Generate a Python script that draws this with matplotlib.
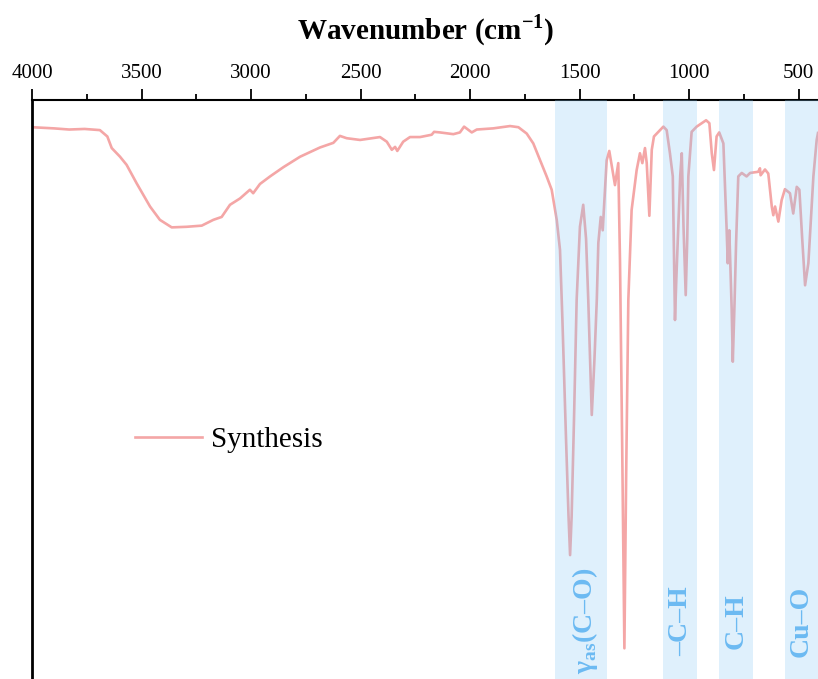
import matplotlib.pyplot as plt

# FTIR spectrum, values
wavenumber = [4000, 3900, 3830, 3760, 3690, 3656, 3636, 3598, 3568, 3522,
              3461, 3416, 3362, 3294, 3225, 3172, 3134, 3096, 3050, 3005,
              2990, 2959, 2913, 2852, 2776, 2685, 2624, 2594, 2563, 2502,
              2411, 2380, 2357, 2342, 2332, 2305, 2274, 2228, 2175, 2164,
              2137, 2076, 2046, 2027, 1992, 1969, 1894, 1817, 1779, 1741,
              1711, 1680, 1650, 1627, 1604, 1589, 1578, 1562, 1550, 1543,
              1536, 1525, 1513, 1498, 1483, 1470, 1460, 1444, 1432, 1421,
              1414, 1403, 1394, 1376, 1364, 1338, 1323, 1315, 1305, 1295,
              1287, 1277, 1262, 1239, 1224, 1213, 1201, 1193, 1181, 1170,
              1160, 1117, 1102, 1087, 1074, 1068, 1064, 1058, 1049, 1040,
              1033, 1025, 1015, 1008, 1003, 988, 965, 922, 907, 896,
              886, 874, 862, 843, 828, 823, 816, 805, 800, 792,
              785, 775, 759, 737, 721, 684, 676, 673, 653, 638,
              622, 615, 607, 592, 577, 562, 539, 524, 508, 496,
              483, 470, 455, 432, 417, 411]
transmittance = [95.3, 95.1, 94.9, 95.0, 94.8, 93.7, 91.7, 90.2, 88.8, 85.6,
                 81.6, 79.3, 78.0, 78.1, 78.3, 79.3, 79.8, 81.9, 83.0, 84.5,
                 83.9, 85.5, 86.8, 88.4, 90.2, 91.8, 92.6, 93.8, 93.4, 93.1,
                 93.6, 92.8, 91.4, 91.9, 91.2, 92.8, 93.6, 93.6, 94.0, 94.5,
                 94.4, 94.1, 94.4, 95.4, 94.4, 94.9, 95.1, 95.5, 95.3, 94.2,
                 92.5, 89.6, 86.8, 84.5, 79.3, 74.1, 62.0, 42.0, 28.0, 21.4,
                 28.0, 45.0, 65.5, 78.1, 81.9, 76.0, 65.5, 45.6, 55.0, 65.5,
                 75.3, 79.8, 77.5, 89.6, 91.2, 85.3, 89.1, 72.0, 40.0, 5.3,
                 35.0, 65.5, 81.0, 87.9, 90.8, 89.1, 91.7, 89.1, 80.0, 91.4,
                 93.7, 95.4, 94.8, 90.8, 86.8, 72.0, 62.0, 69.0, 78.0, 87.0,
                 90.8, 78.0, 66.3, 76.0, 86.8, 94.5, 95.4, 96.5, 96.0, 90.8,
                 87.9, 93.7, 94.4, 92.5, 77.5, 71.8, 77.5, 63.7, 54.8, 65.0,
                 75.3, 86.8, 87.4, 86.8, 87.4, 87.6, 88.2, 87.0, 88.0, 87.3,
                 81.6, 80.1, 81.6, 79.0, 82.7, 84.6, 83.9, 80.4, 85.0, 84.5,
                 76.0, 68.0, 71.8, 86.8, 93.1, 94.3]

# highlighted bands (high, low) and their labels
bands = [(1612, 1376), (1120, 965), (863, 708), (563, 380)]
band_labels = [r'$\mathbf{\gamma}_{\mathbf{as}}$(C–O)', '–C–H', 'C–H', 'Cu–O']
label_pos = [1475, 1037, 785, 486]
label_y = [0.1, 0.1, 0.1, 0.1]

plt.rcParams['font.family'] = ['Liberation Serif', 'DejaVu Serif']
plt.rcParams['mathtext.fontset'] = 'custom'
plt.rcParams['mathtext.rm'] = 'Liberation Serif'
plt.rcParams['mathtext.bf'] = 'Liberation Serif:bold'

fig = plt.figure(figsize=(8.18, 6.79), dpi=100)
ax = fig.add_axes([32 / 818, 0, 788.4 / 818, 579 / 679])

ax.plot(wavenumber, transmittance, color='#f4a6a6', lw=1.9, label='Synthesis', zorder=2)

for (hi, lo), txt, xp, yp in zip(bands, band_labels, label_pos, label_y):
    ax.axvspan(lo, hi, color='#8cc8f4', alpha=0.27, lw=0, zorder=3)
    ax.text(xp, yp, txt, transform=ax.get_xaxis_transform(), rotation=90,
            ha='center', va='center', fontsize=20, fontweight='bold',
            color='#6cbaf2', zorder=4)

ax.set_xlim(4000, 400)
ax.set_ylim(0, 100)
ax.set_xticks([4000, 3500, 3000, 2500, 2000, 1500, 1000, 500])
ax.set_xticks([3750, 3250, 2750, 2250, 1750, 1250, 750], minor=True)
ax.xaxis.tick_top()
ax.xaxis.set_label_position('top')
ax.tick_params(axis='x', which='major', direction='out', length=8, width=1.3,
               labelsize=15, pad=4)
ax.tick_params(axis='x', which='minor', direction='out', length=4.5, width=1.3)
ax.set_yticks([])
ax.set_xlabel(r'Wavenumber (cm$^{\mathbf{-1}}$)', fontsize=21, fontweight='bold', labelpad=18)

for side in ['right', 'bottom']:
    ax.spines[side].set_visible(False)
ax.spines['top'].set_linewidth(1.5)
ax.spines['left'].set_linewidth(2)

ax.legend(loc='center left', bbox_to_anchor=(0.131, 0.413), frameon=False,
          fontsize=21, handlelength=2.3, handletextpad=0.3,
          borderaxespad=0, borderpad=0)

fig.savefig('out.png', dpi=100)
